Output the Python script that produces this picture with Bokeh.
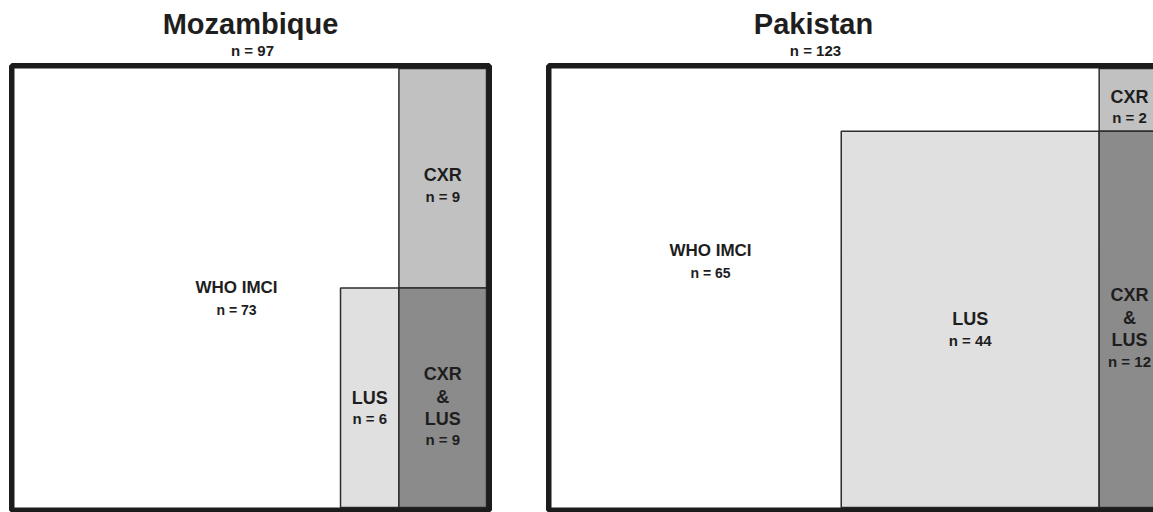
from bokeh.plotting import figure
from bokeh.models import Range1d
from bokeh.core.properties import value
from bokeh.embed import file_html
from bokeh.resources import INLINE

# ---------------- data ----------------
countries = ["Mozambique", "Pakistan"]
totals = [97, 123]
who_imci = [73, 65]
lus_only = [6, 44]
cxr_only = [9, 2]
cxr_and_lus = [9, 12]

# ---------------- layout / style ----------------
FONT = value("Liberation Sans")
# inner box of each panel in page pixels: left, top, width, height
boxes = [(14, 68, 472, 439), (551, 68, 618, 439)]
title_x = [250, 813]
who_label_pos = [(236, 287), (710, 250)]
BORDER = 5.5
C_CXR = "#c1c1c1"
C_LUS = "#e0e0e0"
C_BOTH = "#8b8b8b"
C_LINE = "#2e2e2e"
C_TEXT = "#1e1e1e"

W_PAGE, H_PAGE = 1153, 512
X_TEXT_MAX = W_PAGE - 24
p = figure(width=W_PAGE, height=H_PAGE, output_backend="svg", toolbar_location=None,
           x_range=Range1d(0, W_PAGE), y_range=Range1d(H_PAGE, 0),
           min_border=0, outline_line_color=None)
p.axis.visible = False
p.grid.visible = False
p.background_fill_color = "white"
p.border_fill_color = "white"


def label(x, y, txt, size, color=C_TEXT):
    p.text(x=[min(x, X_TEXT_MAX)], y=[y], text=[txt], text_font=FONT,
           text_font_size=f"{size}px", text_font_style="bold",
           text_align="center", text_baseline="middle", text_color=color)


for i, name in enumerate(countries):
    L, T, W, H = boxes[i]
    n = totals[i]
    col_n = cxr_only[i] + cxr_and_lus[i]
    cw = W * col_n / n                      # width of right column (any CXR)
    h_cxr = H * cxr_only[i] / col_n         # CXR only height
    h_both = H - h_cxr                      # CXR & LUS height
    lus_w = cw * lus_only[i] / cxr_and_lus[i]
    col_left = L + W - cw
    mid_y = T + h_cxr
    bottom = T + H

    # WHO IMCI (whole box, white)
    p.quad(left=[L], right=[L + W], top=[T], bottom=[bottom],
           fill_color="white", line_color=None)
    # CXR only
    p.quad(left=[col_left], right=[L + W], top=[T], bottom=[mid_y],
           fill_color=C_CXR, line_color=C_LINE, line_width=1.5)
    # LUS only
    p.quad(left=[col_left - lus_w], right=[col_left], top=[mid_y], bottom=[bottom],
           fill_color=C_LUS, line_color=C_LINE, line_width=1.5)
    # CXR & LUS
    p.quad(left=[col_left], right=[L + W], top=[mid_y], bottom=[bottom],
           fill_color=C_BOTH, line_color=C_LINE, line_width=1.5)
    # outer border
    b = BORDER / 2
    p.quad(left=[L - b], right=[L + W + b], top=[T - b], bottom=[bottom + b],
           fill_color=None, line_color="#1c1c1c", line_width=BORDER)

    # titles
    label(title_x[i], 23, name, 29)
    label(title_x[i] + 2, 50, f"n = {n}", 15)

    # WHO IMCI label
    wx, wy = who_label_pos[i]
    label(wx, wy, "WHO IMCI", 17)
    label(wx, wy + 22, f"n = {who_imci[i]}", 14)

    # CXR only label
    cx = col_left + cw / 2
    cy = T + h_cxr / 2
    label(cx, cy - 3, "CXR", 18)
    label(cx, cy + 18, f"n = {cxr_only[i]}", 15)

    # LUS label
    lx = col_left - lus_w / 2
    ly = mid_y + h_both / 2
    label(lx, ly, "LUS", 18)
    label(lx, ly + 21, f"n = {lus_only[i]}", 15)

    # CXR & LUS label
    label(cx, ly - 24, "CXR", 18)
    label(cx, ly - 1, "&", 18)
    label(cx, ly + 21, "LUS", 18)
    label(cx, ly + 42, f"n = {cxr_and_lus[i]}", 15)

open("out.html", "w").write(file_html(p, INLINE))
